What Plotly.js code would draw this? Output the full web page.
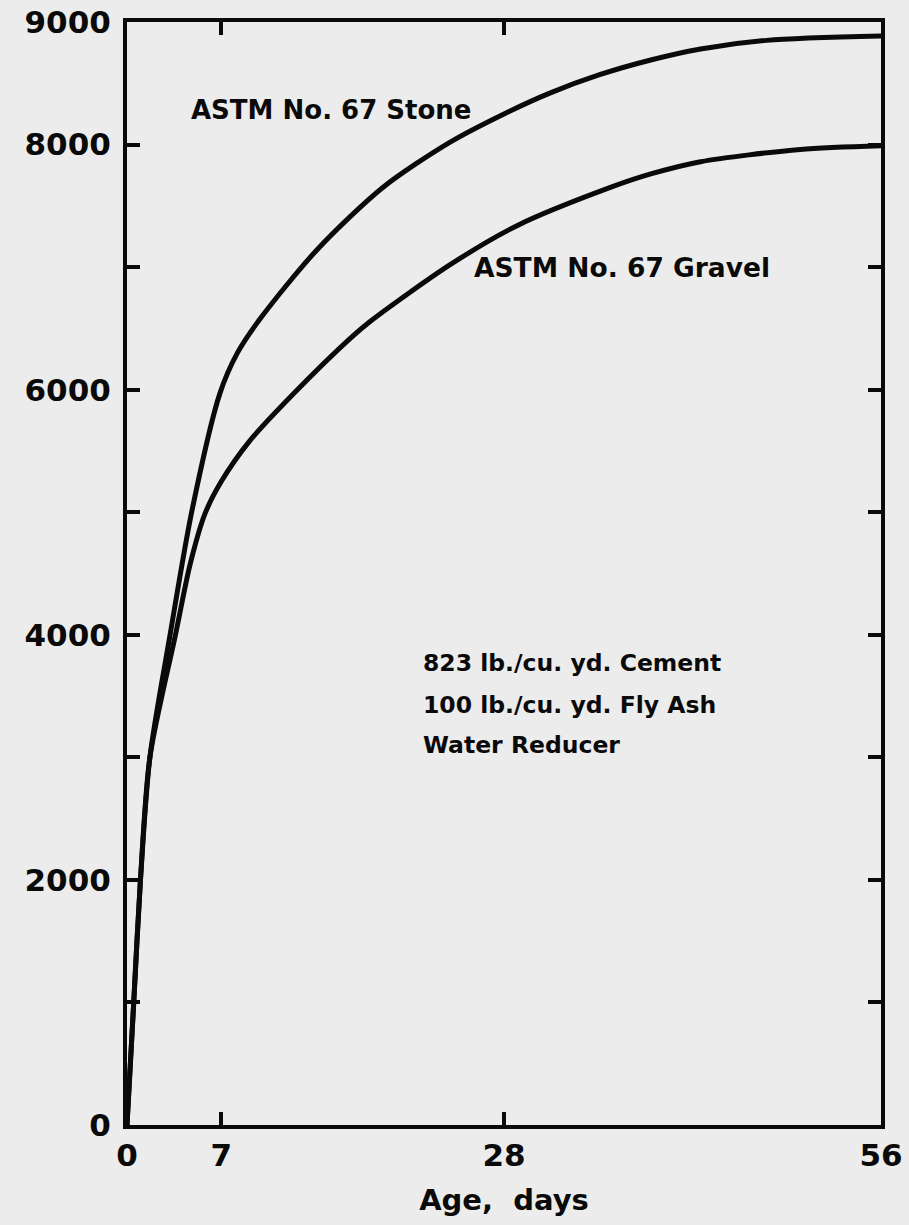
<!DOCTYPE html>
<html>
<head>
<meta charset="utf-8">
<script src="https://cdn.plot.ly/plotly-3.0.1.min.js"></script>
<style>
  html, body { margin: 0; padding: 0; background: #ececec; }
  #chart { width: 909px; height: 1225px; }
</style>
</head>
<body>
<div id="chart"></div>
<script>
// Age, days
const stoneAge = [0, 0.5, 1.0, 1.7, 3.2, 4.8, 6.9, 8.2, 9.9, 14.1, 19.0, 24.0, 28.0, 31.4, 35.1, 38.9, 42.6, 47.5, 56];
// Compressive strength, psi
const stoneStrength = [0, 1000, 2000, 3000, 4000, 5000, 5970, 6300, 6580, 7140, 7650, 8020, 8250, 8420, 8570, 8690, 8780, 8850, 8885];

const gravelAge = [0, 0.5, 1.0, 1.7, 3.6, 4.7, 5.8, 7.0, 9.1, 12.4, 16.6, 18.1, 24.0, 29.0, 35.9, 38.9, 42.6, 50.0, 56];
const gravelStrength = [0, 1000, 2000, 3000, 4000, 4580, 4990, 5250, 5580, 5970, 6420, 6560, 7020, 7340, 7650, 7760, 7860, 7960, 7990];

const xTickVals = [0, 7, 28, 56];
const xTickText = ['0', '7', '28', '56'];
const yTickVals = [0, 1000, 2000, 3000, 4000, 5000, 6000, 7000, 8000, 9000];
const yTickText = ['0', '', '2000', '', '4000', '', '6000', '', '8000', '9000'];

const seriesNames = ['ASTM No. 67 Stone', 'ASTM No. 67 Gravel'];
const noteLines = ['823 lb./cu. yd. Cement', '100 lb./cu. yd. Fly Ash', 'Water Reducer'];

const FONT = 'DejaVu Sans, Liberation Sans, sans-serif';

const traces = [
  { x: stoneAge, y: stoneStrength, name: seriesNames[0], mode: 'lines',
    line: { color: '#0a0a0a', width: 5, shape: 'spline', smoothing: 0.8 } },
  { x: gravelAge, y: gravelStrength, name: seriesNames[1], mode: 'lines',
    line: { color: '#0a0a0a', width: 5, shape: 'spline', smoothing: 0.8 } }
];

const axisCommon = {
  showline: true, linecolor: '#0a0a0a', linewidth: 4, mirror: 'allticks',
  ticks: 'inside', ticklen: 13, tickwidth: 4, tickcolor: '#0a0a0a',
  showgrid: false, zeroline: false,
  tickfont: { family: FONT, size: 31, color: '#0a0a0a', weight: 'bold' }
};

const layout = {
  width: 909, height: 1225,
  margin: { l: 127, r: 28, t: 22, b: 100 },
  paper_bgcolor: '#ececec', plot_bgcolor: '#ececec',
  showlegend: false,
  xaxis: Object.assign({}, axisCommon, {
    range: [0, 56], tickmode: 'array', tickvals: xTickVals, ticktext: xTickText,
    ticklabelstandoff: 0,
    title: { text: 'Age,  days', standoff: 18,
             font: { family: FONT, size: 29, color: '#0a0a0a', weight: 'bold' } }
  }),
  yaxis: Object.assign({}, axisCommon, {
    range: [0, 9000], tickmode: 'array', tickvals: yTickVals, ticktext: yTickText,
    ticklabelstandoff: 6
  }),
  annotations: [
    { x: 4.6, y: 8280, xref: 'x', yref: 'y', xanchor: 'left', yanchor: 'middle',
      text: seriesNames[0], showarrow: false,
      font: { family: FONT, size: 26, color: '#0a0a0a', weight: 'bold' } },
    { x: 25.6, y: 7000, xref: 'x', yref: 'y', xanchor: 'left', yanchor: 'middle',
      text: seriesNames[1], showarrow: false,
      font: { family: FONT, size: 26.5, color: '#0a0a0a', weight: 'bold' } },
    { x: 21.8, y: 3770, xref: 'x', yref: 'y', xanchor: 'left', yanchor: 'middle',
      text: noteLines[0], showarrow: false,
      font: { family: FONT, size: 23.5, color: '#0a0a0a', weight: 'bold' } },
    { x: 21.8, y: 3430, xref: 'x', yref: 'y', xanchor: 'left', yanchor: 'middle',
      text: noteLines[1], showarrow: false,
      font: { family: FONT, size: 23.5, color: '#0a0a0a', weight: 'bold' } },
    { x: 21.8, y: 3100, xref: 'x', yref: 'y', xanchor: 'left', yanchor: 'middle',
      text: noteLines[2], showarrow: false,
      font: { family: FONT, size: 23.5, color: '#0a0a0a', weight: 'bold' } }
  ]
};

Plotly.newPlot('chart', traces, layout, { staticPlot: true, displayModeBar: false });
</script>
</body>
</html>
